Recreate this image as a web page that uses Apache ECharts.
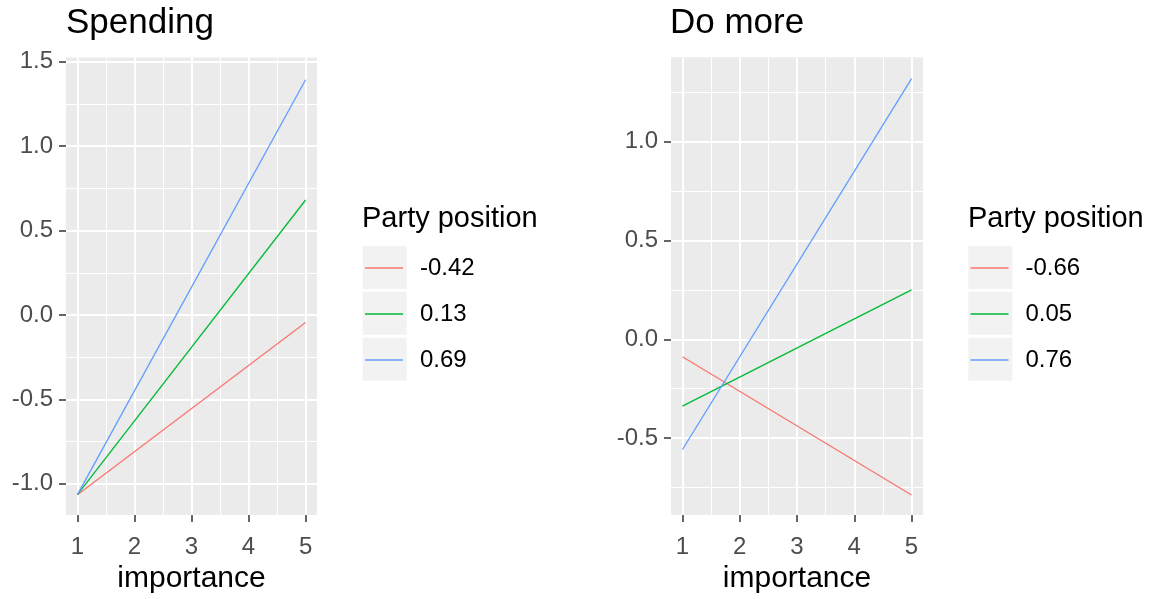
<!DOCTYPE html>
<html>
<head>
<meta charset="utf-8">
<script src="https://cdn.jsdelivr.net/npm/echarts@6/dist/echarts.min.js"></script>
<style>
html,body{margin:0;padding:0;background:#fff;}
#chart{width:1149px;height:599px;}
</style>
</head>
<body>
<div id="chart"></div>
<script>
// ---- data ----
const importance = [1, 5];
const spendingNames = ['-0.42', '0.13', '0.69'];
const spendingRed = [-1.064, -0.045];
const spendingGreen = [-1.064, 0.681];
const spendingBlue = [-1.064, 1.393];
const doMoreNames = ['-0.66', '0.05', '0.76'];
const doMoreRed = [-0.088, -0.788];
const doMoreGreen = [-0.338, 0.25];
const doMoreBlue = [-0.558, 1.32];
const xMajorTicks = [1, 2, 3, 4, 5];
const xMinorTicks = [1.5, 2.5, 3.5, 4.5];
const spendingYMajor = [-1.0, -0.5, 0.0, 0.5, 1.0, 1.5];
const spendingYMinor = [-0.75, -0.25, 0.25, 0.75, 1.25];
const doMoreYMajor = [-0.5, 0.0, 0.5, 1.0];
const doMoreYMinor = [-0.75, -0.25, 0.25, 0.75, 1.25];
const colors = ['#F8766D', '#00BA38', '#619CFF'];

const FONT = 'Liberation Sans, Arial, sans-serif';
const chart = echarts.init(document.getElementById('chart'));

function pairs(ys) { return importance.map((x, i) => [x, ys[i]]); }

function majorX(grid, min, max) {
  return {
    type: 'value', gridIndex: grid, min: min, max: max,
    name: 'importance', nameLocation: 'middle', nameGap: 45,
    nameTextStyle: { fontSize: 30, color: '#000', fontFamily: FONT },
    axisLine: { show: false, onZero: false },
    axisTick: { show: true, length: 7, lineStyle: { color: '#333333', width: 1.5 }, customValues: xMajorTicks },
    axisLabel: { show: true, margin: 20, fontSize: 24, color: '#4D4D4D', fontFamily: FONT, customValues: xMajorTicks,
      formatter: v => String(v) },
    splitLine: { show: true, lineStyle: { color: '#FFFFFF', width: 2 } }
  };
}
function minorX(grid, min, max) {
  return {
    type: 'value', gridIndex: grid, min: min, max: max,
    axisLine: { show: false, onZero: false },
    axisTick: { show: false, customValues: xMinorTicks },
    axisLabel: { show: false, customValues: xMinorTicks },
    splitLine: { show: true, lineStyle: { color: '#FFFFFF', width: 1 } }
  };
}
function majorY(grid, min, max, ticks) {
  return {
    type: 'value', gridIndex: grid, min: min, max: max,
    axisLine: { show: false, onZero: false },
    axisTick: { show: true, length: 7, lineStyle: { color: '#333333', width: 1.5 }, customValues: ticks },
    axisLabel: { show: true, margin: 13, fontSize: 24, color: '#4D4D4D', fontFamily: FONT, customValues: ticks,
      formatter: v => v.toFixed(1) },
    splitLine: { show: true, lineStyle: { color: '#FFFFFF', width: 2 } }
  };
}
function minorY(grid, min, max, ticks) {
  return {
    type: 'value', gridIndex: grid, min: min, max: max,
    axisLine: { show: false, onZero: false },
    axisTick: { show: false, customValues: ticks },
    axisLabel: { show: false, customValues: ticks },
    splitLine: { show: true, lineStyle: { color: '#FFFFFF', width: 1 } }
  };
}
function lineSeries(name, ys, color, xi, yi) {
  return {
    type: 'line', name: name, data: pairs(ys), xAxisIndex: xi, yAxisIndex: yi,
    showSymbol: false, symbol: 'none', color: color,
    lineStyle: { color: color, width: 1.3 }, animation: false, silent: true
  };
}
function legendFor(names, left) {
  return {
    data: names, orient: 'vertical', left: left, top: 256, padding: 0,
    icon: 'rect', itemWidth: 38, itemHeight: 1.5, itemGap: 22, selectedMode: false,
    textStyle: { fontSize: 24, color: '#000', fontFamily: FONT, lineHeight: 24, padding: [0, 0, 0, 12] }
  };
}
function keyBoxes(left) {
  return [246, 291.7, 337.7].map(y => ({
    type: 'rect', left: left, top: y, z: -1,
    shape: { width: 44, height: 43 }, style: { fill: '#F2F2F2' }
  }));
}

const titleStyle = { fontSize: 35, fontWeight: 'normal', color: '#000', fontFamily: FONT };
const legTitleStyle = { fontSize: 29, fontWeight: 'normal', color: '#000', fontFamily: FONT };

chart.setOption({
  animation: false,
  backgroundColor: '#FFFFFF',
  title: [
    { text: 'Spending', left: 66, top: 6, padding: 0, textStyle: titleStyle },
    { text: 'Do more', left: 670, top: 6, padding: 0, textStyle: titleStyle },
    { text: 'Party position', left: 362, top: 204, padding: 0, textStyle: legTitleStyle },
    { text: 'Party position', left: 968, top: 204, padding: 0, textStyle: legTitleStyle }
  ],
  grid: [
    { left: 66, top: 57.5, width: 251, height: 462.5, show: true, backgroundColor: '#EBEBEB', borderWidth: 0, containLabel: false },
    { left: 671, top: 57.3, width: 252, height: 463.4, show: true, backgroundColor: '#EBEBEB', borderWidth: 0, containLabel: false }
  ],
  xAxis: [
    majorX(0, 0.8, 5.2), minorX(0, 0.8, 5.2),
    majorX(1, 0.8, 5.2), minorX(1, 0.8, 5.2)
  ],
  yAxis: [
    majorY(0, -1.185, 1.525, spendingYMajor), minorY(0, -1.185, 1.525, spendingYMinor),
    majorY(1, -0.89, 1.428, doMoreYMajor), minorY(1, -0.89, 1.428, doMoreYMinor)
  ],
  legend: [legendFor(spendingNames, 365), legendFor(doMoreNames, 970.5)],
  graphic: [].concat(keyBoxes(362.7), keyBoxes(968.3)),
  series: [
    lineSeries(spendingNames[0], spendingRed, colors[0], 0, 0),
    lineSeries(spendingNames[1], spendingGreen, colors[1], 0, 0),
    lineSeries(spendingNames[2], spendingBlue, colors[2], 0, 0),
    lineSeries(doMoreNames[0], doMoreRed, colors[0], 2, 2),
    lineSeries(doMoreNames[1], doMoreGreen, colors[1], 2, 2),
    lineSeries(doMoreNames[2], doMoreBlue, colors[2], 2, 2)
  ]
});
</script>
</body>
</html>
